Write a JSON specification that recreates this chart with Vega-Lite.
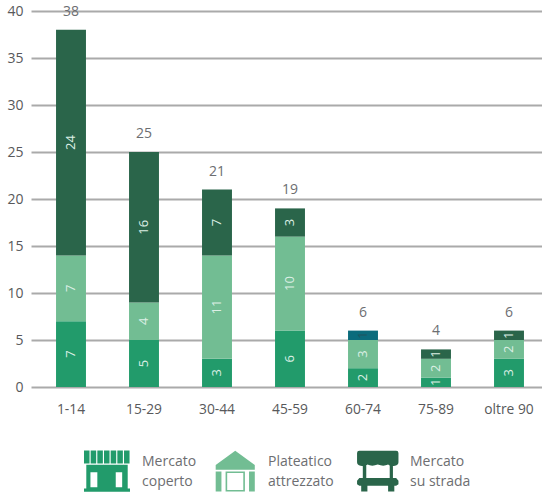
{
  "$schema": "https://vega.github.io/schema/vega-lite/v6.json",
  "width": 507.5,
  "height": 376,
  "padding": {"left": 34.5, "top": 11, "right": 0, "bottom": 108},
  "autosize": "none",
  "background": "white",
  "config": {"view": {"stroke": null}, "font": "Open Sans"},
  "data": {
    "values": [
      {"eta": "1-14", "tipo": "Mercato coperto", "livello": 1, "n": 7},
      {"eta": "1-14", "tipo": "Plateatico attrezzato", "livello": 2, "n": 7},
      {"eta": "1-14", "tipo": "Mercato su strada", "livello": 3, "n": 24},
      {"eta": "15-29", "tipo": "Mercato coperto", "livello": 1, "n": 5},
      {"eta": "15-29", "tipo": "Plateatico attrezzato", "livello": 2, "n": 4},
      {"eta": "15-29", "tipo": "Mercato su strada", "livello": 3, "n": 16},
      {"eta": "30-44", "tipo": "Mercato coperto", "livello": 1, "n": 3},
      {"eta": "30-44", "tipo": "Plateatico attrezzato", "livello": 2, "n": 11},
      {"eta": "30-44", "tipo": "Mercato su strada", "livello": 3, "n": 7},
      {"eta": "45-59", "tipo": "Mercato coperto", "livello": 1, "n": 6},
      {"eta": "45-59", "tipo": "Plateatico attrezzato", "livello": 2, "n": 10},
      {"eta": "45-59", "tipo": "Mercato su strada", "livello": 3, "n": 3},
      {"eta": "60-74", "tipo": "Mercato coperto", "livello": 1, "n": 2},
      {"eta": "60-74", "tipo": "Plateatico attrezzato", "livello": 2, "n": 3},
      {"eta": "60-74", "tipo": "Mercato su strada", "livello": 3, "n": 1},
      {"eta": "75-89", "tipo": "Mercato coperto", "livello": 1, "n": 1},
      {"eta": "75-89", "tipo": "Plateatico attrezzato", "livello": 2, "n": 2},
      {"eta": "75-89", "tipo": "Mercato su strada", "livello": 3, "n": 1},
      {"eta": "oltre 90", "tipo": "Mercato coperto", "livello": 1, "n": 3},
      {"eta": "oltre 90", "tipo": "Plateatico attrezzato", "livello": 2, "n": 2},
      {"eta": "oltre 90", "tipo": "Mercato su strada", "livello": 3, "n": 1}
    ]
  },
  "encoding": {
    "x": {
      "field": "eta",
      "type": "nominal",
      "sort": null,
      "title": null,
      "scale": {"range": [0, 511], "paddingInner": 0.59, "paddingOuter": 0.295},
      "axis": {
        "domain": false,
        "ticks": false,
        "labelAngle": 0,
        "labelFontSize": 13.8,
        "labelColor": "#58595b",
        "labelPadding": 15
      }
    }
  },
  "layer": [
    {
      "mark": {"type": "bar"},
      "encoding": {
        "y": {
          "field": "n",
          "type": "quantitative",
          "stack": "zero",
          "title": null,
          "scale": {"domain": [0, 40], "nice": false},
          "axis": {
            "values": [0, 5, 10, 15, 20, 25, 30, 35, 40],
            "grid": true,
            "gridColor": "#aaaaaa",
            "gridWidth": 2,
            "domain": false,
            "tickSize": 3.5,
            "tickColor": "#aaaaaa",
            "tickWidth": 2,
            "labelPadding": 8,
            "labelFontSize": 14,
            "labelColor": "#58595b"
          }
        },
        "order": {"field": "livello", "type": "ordinal"},
        "color": {
          "condition": {
            "test": "datum.eta === '60-74' && datum.tipo === 'Mercato su strada'",
            "value": "#0b6b7c"
          },
          "field": "tipo",
          "type": "nominal",
          "scale": {
            "domain": ["Mercato coperto", "Plateatico attrezzato", "Mercato su strada"],
            "range": ["#229b6b", "#72bd93", "#2a654a"]
          },
          "legend": {
            "orient": "none",
            "legendX": 49.5,
            "legendY": 437,
            "direction": "horizontal",
            "columns": 3,
            "columnPadding": 18,
            "title": null,
            "symbolSize": 2116,
            "symbolStrokeWidth": 0,
            "labelOffset": 12,
            "labelFontSize": 14,
            "labelColor": "#6d6e71",
            "labelLimit": 120,
            "labelExpr": "datum.label === 'Mercato su strada' ? ['Mercato', 'su strada'] : split(datum.label, ' ')",
            "encode": {
              "labels": {
                "update": {
                  "lineHeight": {"value": 20},
                  "dy": {"value": -9},
                  "dx": {"signal": "datum.value === 'Plateatico attrezzato' ? -5 : 0"}
                }
              },
              "symbols": {
                "update": {
                  "shape": {
                    "signal": "datum.value === 'Mercato coperto' ? 'M-1 -0.9H-0.76V-0.33H-1ZM-0.71 -0.9H-0.47V-0.33H-0.71ZM-0.42 -0.9H-0.18V-0.33H-0.42ZM-0.13 -0.9H0.11V-0.33H-0.13ZM0.16 -0.9H0.4V-0.33H0.16ZM0.45 -0.9H0.69V-0.33H0.45ZM0.74 -0.9H0.98V-0.33H0.74ZM-0.9 -0.28H0.9V0.75H-0.9ZM-0.72 0.05V0.7H-0.42V0.05ZM0.38 0.05V0.7H0.66V0.05ZM-1 0.75H1V0.9H-1Z' : datum.value === 'Plateatico attrezzato' ? 'M-0.12 -0.9L0.73 -0.28V-0.08H-0.97V-0.28ZM-0.97 0H-0.72V0.87H-0.97ZM0.48 0H0.73V0.87H0.48ZM-0.54 0H0.3V0.87H-0.54ZM-0.47 0.07V0.8H0.23V0.07Z' : 'M-0.68 -0.9H0.92Q1.02 -0.9 1.02 -0.8V-0.4Q1.02 -0.28 0.87 -0.25Q0.67 -0.2 0.57 -0.3Q0.37 -0.2 0.12 -0.3Q-0.13 -0.2 -0.33 -0.3Q-0.43 -0.2 -0.63 -0.25Q-0.78 -0.28 -0.78 -0.4V-0.8Q-0.78 -0.9 -0.68 -0.9ZM-0.53 -0.3H-0.38V0.3H-0.53ZM0.64 -0.3H0.78V0.3H0.64ZM-0.68 0.28H0.92L1.02 0.4V0.55L0.92 0.62H0.84V0.87H0.57V0.62H-0.33V0.87H-0.6V0.62H-0.68L-0.78 0.55V0.4Z'"
                  }
                }
              }
            }
          }
        }
      }
    },
    {
      "mark": {"type": "text", "angle": -90, "fontSize": 13, "baseline": "middle", "align": "center"},
      "encoding": {
        "y": {"field": "n", "type": "quantitative", "stack": "zero", "bandPosition": 0.5},
        "order": {"field": "livello", "type": "ordinal"},
        "text": {"field": "n", "type": "quantitative"},
        "color": {
          "condition": {
            "test": "datum.eta === '60-74' && datum.tipo === 'Mercato su strada'",
            "value": "#1f5560"
          },
          "value": "#dcefe5"
        }
      }
    },
    {
      "mark": {"type": "text", "dy": -18, "fontSize": 14, "color": "#6d6e71", "baseline": "middle"},
      "encoding": {
        "y": {"aggregate": "sum", "field": "n", "type": "quantitative"},
        "text": {"aggregate": "sum", "field": "n", "type": "quantitative"}
      }
    }
  ]
}
